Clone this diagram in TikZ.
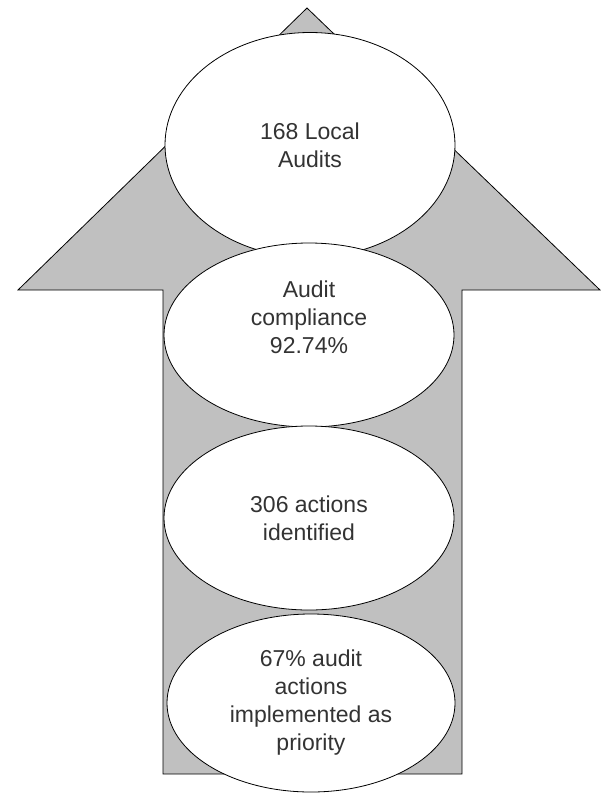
\documentclass[tikz,border=0pt]{standalone}
\usepackage{fontspec}
\setmainfont{Liberation Sans}
\usetikzlibrary{shapes.geometric}
\definecolor{arrowgray}{RGB}{192,192,192}
\begin{document}
\begin{tikzpicture}[x=1pt, y=-1pt,
  stage/.style={ellipse, draw=black, thick, fill=white, inner sep=0pt,
    minimum width=290pt, minimum height=184pt, align=center,
    text=black!80, font=\fontsize{23}{28}\selectfont}]
\useasboundingbox (0,0) rectangle (613,796);

% Arrow
\filldraw[fill=arrowgray, draw=black, thick, line join=miter]
  (307,8) -- (600,290) -- (462,290) -- (462,774) -- (163,774) -- (163,290) -- (18,290) -- cycle;

% Stages
\node[stage, minimum height=225pt] (audits) at (310,145) {168 Local\\Audits};
\node[stage] (compliance) at (309,335) {Audit\\compliance\\92.74\%\\[8pt]};
\node[stage] (actions) at (309,518) {306 actions\\identified};
\node[stage, minimum width=288pt, minimum height=178pt] (priority) at (311,703)
  {67\% audit\\actions\\implemented as\\priority};
\end{tikzpicture}
\end{document}
